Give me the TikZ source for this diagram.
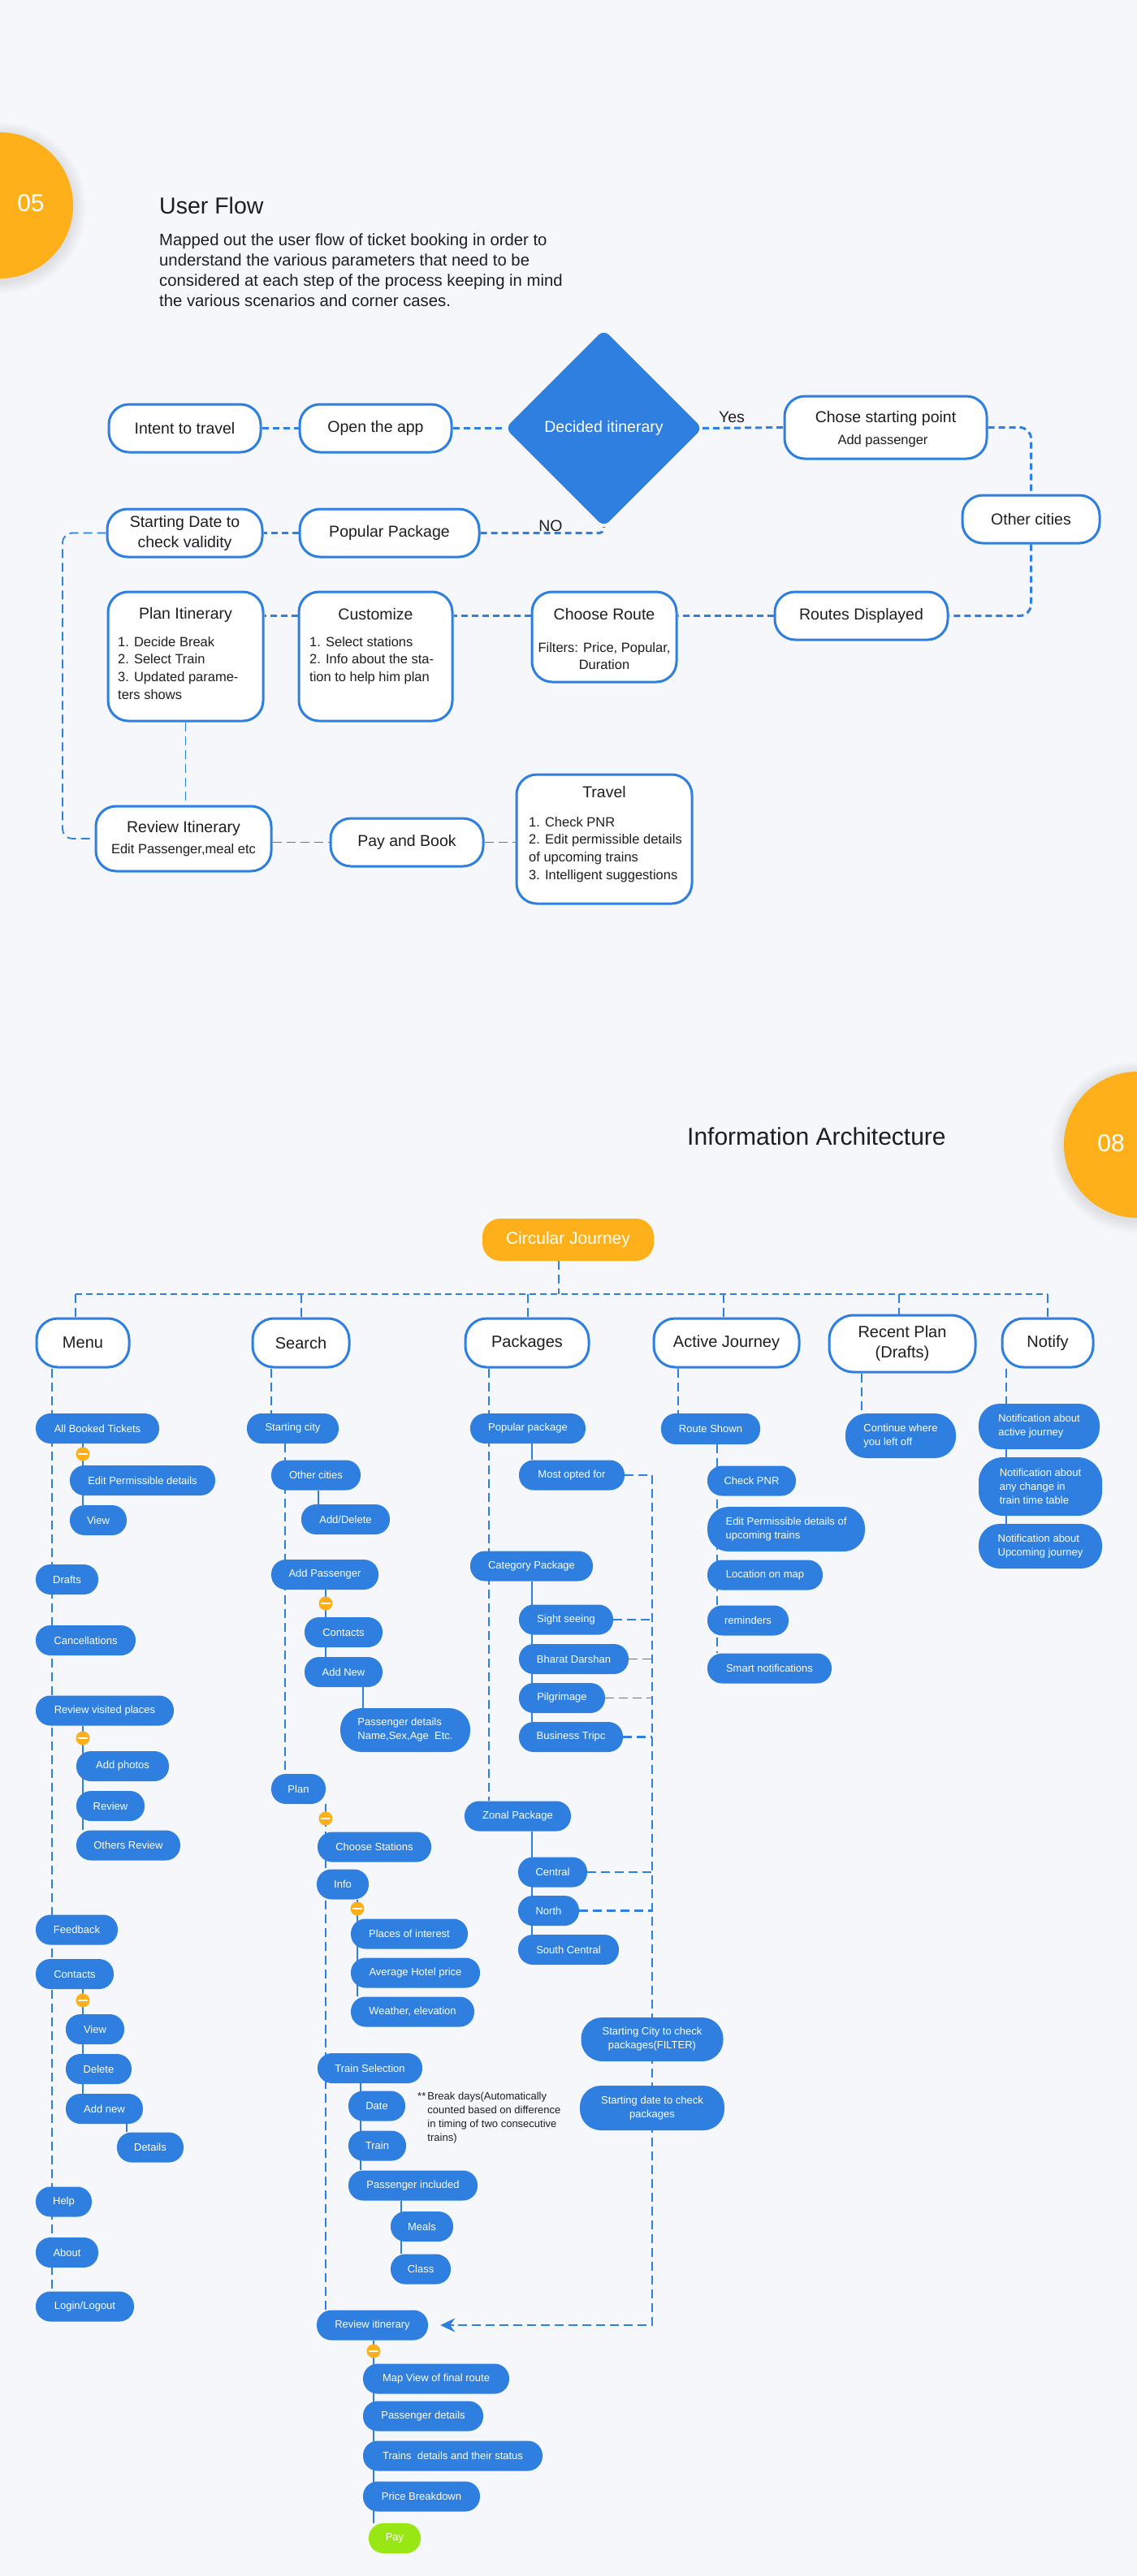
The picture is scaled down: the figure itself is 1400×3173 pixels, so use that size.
\documentclass[tikz,border=0pt]{standalone}
\usepackage{fontspec}
\setmainfont{Liberation Sans}
\usetikzlibrary{shapes.geometric,arrows.meta}
\definecolor{bgc}{RGB}{245,247,251}
\definecolor{bl}{RGB}{46,127,224}
\definecolor{org}{RGB}{253,176,25}
\definecolor{grn}{RGB}{152,230,20}
\definecolor{ink}{RGB}{30,30,34}
\pgfdeclarelayer{back}
\pgfdeclarelayer{wires}
\pgfsetlayers{back,wires,main}
\newcommand\fsTitle{\fontsize{28.5}{34}\selectfont}
\newcommand\fsTitleB{\fontsize{30}{36}\selectfont}
\newcommand\fsPara{\fontsize{20.3}{25}\selectfont}
\newcommand\fsBox{\fontsize{19.5}{25}\selectfont}
\newcommand\fsSub{\fontsize{16.5}{21.7}\selectfont}
\newcommand\fsHead{\fontsize{20}{25}\selectfont}
\newcommand\fsPill{\fontsize{13}{17}\selectfont}
\newcommand\fsNote{\fontsize{13}{16.7}\selectfont}
\newcommand\fsNum{\fontsize{30}{36}\selectfont}
\tikzset{
  flowbox/.style={draw=bl, line width=3pt, fill=white, rounded corners=25pt, inner sep=0pt, font=\fsBox, text=ink, align=center},
  flowtxt/.style={inner sep=0pt, font=\fsBox, text=ink, align=center},
  subtxt/.style={inner sep=0pt, font=\fsSub, text=ink, align=left},
  headbox/.style={draw=bl, line width=3pt, fill=white, rounded corners=26pt, inner sep=0pt, font=\fsHead, text=ink, align=center, minimum height=60pt},
  pl/.style={fill=bl, rounded corners=18pt, inner sep=0pt, font=\fsPill, text=white, minimum height=37pt, align=left},
  pl2/.style={pl, rounded corners=26pt, minimum height=55pt},
  collapse/.style={circle, fill=org, minimum size=17pt, inner sep=0pt, path picture={\draw[white, line width=2.2pt, line cap=round] ([xshift=-5pt]path picture bounding box.center) -- ([xshift=5pt]path picture bounding box.center);}},
  fdash/.style={draw=bl, line width=3pt, dash pattern=on 8pt off 5pt},
  fthin/.style={draw=bl, line width=1.8pt, dash pattern=on 11pt off 6pt},
  bar/.style={draw=bl, line width=2.6pt, dash pattern=on 8pt off 5pt},
  drop/.style={draw=bl, line width=1.6pt, dash pattern=on 11pt off 6pt},
  spine/.style={draw=bl, line width=2.6pt, dash pattern=on 11pt off 6pt},
  twig/.style={draw=bl, line width=2.4pt},
}
\begin{document}
\begin{tikzpicture}[x=1pt,y=-1pt]
\useasboundingbox (0,0) rectangle (1400,3173);
\begin{pgfonlayer}{back}
\fill[bgc] (0,0) rectangle (1400,3173);
\begin{scope}
\clip (0,0) rectangle (1400,3173);
\foreach \rr in {92,94,...,106} {\fill[black,opacity=0.012] (0,256) circle (\rr pt); \fill[black,opacity=0.012] (1400,1413) circle (\rr pt);}
\fill[org] (0,253) circle (90pt);
\fill[org] (1400,1410) circle (90pt);
\end{scope}
\end{pgfonlayer}

% ---------------- USER FLOW ----------------
\node[text=white, font=\fsNum, inner sep=0pt] (n05) at (38,250) {05};
\node[anchor=west, inner sep=0pt, font=\fsTitle, text=ink] (uftitle) at (196,253) {User Flow};
\node[anchor=north west, inner sep=0pt, font=\fsPara, text=ink, align=left] (ufpara) at (196,288) {Mapped out the user flow of ticket booking in order to\\understand the various parameters that need to be\\considered at each step of the process keeping in mind\\the various scenarios and corner cases.};

\node[flowbox, minimum width=187, minimum height=59] (intent) at (227.5,527.5) {Intent to travel};
\node[flowbox, minimum width=187, minimum height=59] (open) at (462.5,527.5) {Open the app};
\node[diamond, aspect=1, fill=bl, minimum width=243, minimum height=243, inner sep=0pt, rounded corners=9pt, text=white, font=\fsBox] (dec) at (743.5,527.5) {Decided itinerary};
\node[flowbox, minimum width=249, minimum height=77] (chose) at (1090.5,526.5) {};
\node[flowtxt] (chose-t) at (1090.5,515) {Chose starting point};
\node[subtxt] (chose-s) at (1087,543) {Add passenger};
\node[flowbox, minimum width=169, minimum height=59] (other) at (1269.5,639.5) {Other cities};
\node[flowbox, minimum width=191, minimum height=59] (start) at (227.5,656.5) {Starting Date to\\check validity};
\node[flowbox, minimum width=221, minimum height=59] (pop) at (479.5,656.5) {Popular Package};
\node[flowtxt] (yes) at (901,514) {Yes};
\node[flowtxt] (no) at (678,648) {NO};

\node[flowbox, minimum width=191, minimum height=159] (plan) at (228.5,808.5) {};
\node[flowtxt] (plan-t) at (228.5,757) {Plan Itinerary};
\node[subtxt, anchor=north west] (plan-l) at (145,784) {1. Decide Break\\2. Select Train\\3. Updated parame-\\ters shows};
\node[flowbox, minimum width=189, minimum height=159] (cust) at (462.5,808.5) {};
\node[flowtxt] (cust-t) at (462.5,757) {Customize};
\node[subtxt, anchor=north west] (cust-l) at (381,784) {1. Select stations\\2. Info about the sta-\\tion to help him plan};
\node[flowbox, minimum width=178, minimum height=111] (choose) at (744,784.5) {};
\node[flowtxt] (choose-t) at (744,757) {Choose Route};
\node[subtxt, align=center] (choose-l) at (744,808) {Filters: Price, Popular,\\Duration};
\node[flowbox, minimum width=213, minimum height=59] (routes) at (1060.5,758.5) {Routes Displayed};

\node[flowbox, minimum width=216, minimum height=80] (review) at (226,1033) {};
\node[flowtxt] (review-t) at (226,1020) {Review Itinerary};
\node[subtxt] (review-s) at (226,1047) {Edit Passenger,meal etc};
\node[flowbox, minimum width=188, minimum height=59] (pay) at (501,1037.5) {Pay and Book};
\node[flowbox, minimum width=216, minimum height=159] (travel) at (744,1033.5) {};
\node[flowtxt] (travel-t) at (744,976) {Travel};
\node[subtxt, anchor=north west] (travel-l) at (651,1006) {1. Check PNR\\2. Edit permissible details\\of upcoming trains\\3. Intelligent suggestions};

\coordinate (lft) at (77,0);
\begin{pgfonlayer}{wires}
\draw[fdash] (intent.east) -- (open.west);
\draw[fdash] (open.east) -- (dec.west);
\draw[fdash] (dec.east) -- (chose.west);
\draw[fdash, rounded corners=14pt] (chose.east) -| (other.north);
\draw[fdash, rounded corners=14pt] (other.south) |- (routes.east);
\draw[fdash] (routes.west) -- (routes.west -| choose.east);
\draw[fdash] (routes.west -| choose.west) -- (routes.west -| cust.east);
\draw[fdash] (routes.west -| cust.west) -- (routes.west -| plan.east);
\draw[fdash, rounded corners=6pt] (pop.east) -| (dec.south);
\draw[fdash] (pop.west) -- (start.east);
\draw[fthin, rounded corners=12pt] (start.west) -- (start.west -| lft) -- (lft |- review.west) -- (review.west);
\draw[fthin] (plan.south) -- (plan.south |- review.north);
\draw[fthin] (pay.west -| review.east) -- (pay.west);
\draw[fthin] (pay.east) -- (pay.east -| travel.west);
\end{pgfonlayer}

% ---------------- INFORMATION ARCHITECTURE ----------------
\node[anchor=west, inner sep=0pt, font=\fsTitleB, text=ink] (iatitle) at (846,1400) {Information Architecture};
\node[text=white, font=\fsNum, inner sep=0pt] (n08) at (1368,1408) {08};
\node[fill=org, rounded corners=22pt, minimum width=211, minimum height=52, text=white, font=\fontsize{21}{25}\selectfont, inner sep=0pt] (cj) at (699.5,1527) {Circular Journey};

\node[headbox, minimum width=114] (menu) at (102,1654) {Menu};
\node[headbox, minimum width=119] (search) at (370.5,1654) {Search};
\node[headbox, minimum width=152] (packages) at (649,1654) {Packages};
\node[headbox, minimum width=179] (active) at (894.5,1654) {Active Journey};
\node[headbox, minimum width=180, minimum height=70, rounded corners=30pt] (recent) at (1111,1655) {Recent Plan\\(Drafts)};
\node[headbox, minimum width=112] (notify) at (1290,1654) {Notify};

% Menu column
\node[pl, minimum width=152] (abt) at (120,1759.5) {All Booked Tickets};
\node[pl, minimum width=179] (epd) at (175.5,1823.5) {Edit Permissible details};
\node[pl, minimum width=70] (mview) at (121,1872.5) {View};
\node[pl, minimum width=77] (drafts) at (82.5,1945.5) {Drafts};
\node[pl, minimum width=123] (canc) at (105.5,2020.5) {Cancellations};
\node[pl, minimum width=170] (rvp) at (129,2107) {Review visited places};
\node[pl, minimum width=114] (addph) at (151,2175.5) {Add photos};
\node[pl, minimum width=84] (mreview) at (136,2224.5) {Review};
\node[pl, minimum width=128] (othrev) at (158,2273) {Others Review};
\node[pl, minimum width=101] (feedback) at (94.5,2377) {Feedback};
\node[pl, minimum width=96] (mcontacts) at (92,2431.5) {Contacts};
\node[pl, minimum width=72] (cview) at (117,2499.5) {View};
\node[pl, minimum width=81] (cdelete) at (121.5,2548.5) {Delete};
\node[pl, minimum width=95] (caddnew) at (128.5,2597.5) {Add new};
\node[pl, minimum width=82] (cdetails) at (185,2645) {Details};
\node[pl, minimum width=69] (help) at (78.5,2712) {Help};
\node[pl, minimum width=77] (about) at (82.5,2774.5) {About};
\node[pl, minimum width=121] (login) at (104.5,2841) {Login/Logout};

% Search column
\node[pl, minimum width=113] (scity) at (360.5,1759.5) {Starting city};
\node[pl, minimum width=110] (ocity) at (389,1817) {Other cities};
\node[pl, minimum width=109] (adddel) at (425.5,1871.5) {Add/Delete};
\node[pl, minimum width=132] (addpass) at (400,1939.5) {Add Passenger};
\node[pl, minimum width=96] (scontacts) at (423,2010.5) {Contacts};
\node[pl, minimum width=96] (saddnew) at (423,2059.5) {Add New};
\node[pl2, minimum width=160, minimum height=54] (passdet) at (499,2131) {Passenger details\\Name,Sex,Age\ \ Etc.};
\node[pl, minimum width=67] (splan) at (367.5,2203.5) {Plan};
\node[pl, minimum width=140] (chst) at (461,2275) {Choose Stations};
\node[pl, minimum width=64] (info) at (422,2321) {Info};
\node[pl, minimum width=144] (poi) at (504,2382) {Places of interest};
\node[pl, minimum width=159] (ahp) at (511.5,2430) {Average Hotel price};
\node[pl, minimum width=152] (weather) at (508,2478) {Weather, elevation};
\node[pl, minimum width=129] (trainsel) at (455.5,2547.5) {Train Selection};
\node[pl, minimum width=70] (date) at (464,2594) {Date};
\node[pl, minimum width=71] (train) at (464.5,2643) {Train};
\node[pl, minimum width=159] (passinc) at (508.5,2692) {Passenger included};
\node[pl, minimum width=77] (meals) at (519.5,2742.5) {Meals};
\node[pl, minimum width=74] (class) at (518,2795) {Class};
\node[anchor=north west, inner sep=0pt, font=\fsNote, text=ink] (note) at (514,2575) {\begin{tabular}{@{}l@{\,}l@{}}**&Break days(Automatically\\&counted based on difference\\&in timing of two consecutive\\&trains)\end{tabular}};
\node[pl, minimum width=137] (revit) at (458.5,2864) {Review itinerary};
\node[pl, minimum width=180] (mapv) at (537,2930) {Map View of final route};
\node[pl, minimum width=148] (pdet) at (521,2976) {Passenger details};
\node[pl, minimum width=221] (trains) at (557.5,3025) {Trains\ \ details and their status};
\node[pl, minimum width=144] (price) at (519,3075) {Price Breakdown};
\node[pl, fill=grn, minimum width=64] (paynode) at (486,3126.5) {Pay};

% Packages column
\node[pl, minimum width=142] (popular) at (650,1759.5) {Popular package};
\node[pl, minimum width=130] (most) at (704,1817) {Most opted for};
\node[pl, minimum width=151] (category) at (654.5,1929) {Category Package};
\node[pl, minimum width=116] (sight) at (697,1995) {Sight seeing};
\node[pl, minimum width=135] (bharat) at (706.5,2043.5) {Bharat Darshan};
\node[pl, minimum width=106] (pilg) at (692,2091.5) {Pilgrimage};
\node[pl, minimum width=128] (business) at (703,2139.5) {Business Tripc};
\node[pl, minimum width=131] (zonal) at (637.5,2237) {Zonal Package};
\node[pl, minimum width=85] (central) at (680.5,2306) {Central};
\node[pl, minimum width=75] (north) at (675.5,2353.5) {North};
\node[pl, minimum width=124] (southc) at (700,2401.5) {South Central};
\node[pl2, minimum width=175, minimum height=54, align=center] (scfilter) at (803,2512) {Starting City to check\\packages(FILTER)};
\node[pl2, minimum width=178, minimum height=55, align=center] (sdfilter) at (803,2596.5) {Starting date to check\\packages};

% Active journey column
\node[pl, minimum width=122, minimum height=38] (route) at (875,1760) {Route Shown};
\node[pl, minimum width=109] (chkpnr) at (925.5,1824) {Check PNR};
\node[pl2, minimum width=194] (editp) at (968,1883.5) {Edit Permissible details of\\upcoming trains};
\node[pl, minimum width=142] (loc) at (942,1940) {Location on map};
\node[pl, minimum width=100] (remind) at (921,1996) {reminders};
\node[pl, minimum width=153] (smart) at (947.5,2055) {Smart notifications};

% Recent plan / Notify
\node[pl2, minimum width=136] (cont) at (1109,1768.5) {Continue where\\you left off};
\node[pl2, minimum width=149, minimum height=56] (nt1) at (1279.5,1757) {Notification about\\active journey};
\node[pl2, minimum width=152, minimum height=72, rounded corners=30pt] (nt2) at (1281,1831) {Notification about\\any change in\\train time table};
\node[pl2, minimum width=152] (nt3) at (1281,1904.5) {Notification about\\Upcoming journey};

% collapse markers
\node[collapse] (c1) at (102,1791) {};
\node[collapse] (c2) at (102,2141) {};
\node[collapse] (c3) at (102,2464) {};
\node[collapse] (c4) at (401,1975) {};
\node[collapse] (c5) at (401,2240) {};
\node[collapse] (c6) at (440,2351) {};
\node[collapse] (c7) at (460,2896) {};

% coordinates
\coordinate (b1) at (93,1594);
\coordinate (b2) at (371,1594);
\coordinate (b3) at (650,1594);
\coordinate (b4) at (891,1594);
\coordinate (b5) at (1107,1594);
\coordinate (b6) at (1290,1594);
\coordinate (cjx) at (688,1594);
\coordinate (xm) at (64,0);
\coordinate (xm2) at (102,0);
\coordinate (xm3) at (156,0);
\coordinate (xs) at (334,0);
\coordinate (xs2) at (351,0);
\coordinate (xs3) at (392,0);
\coordinate (xs4) at (401,0);
\coordinate (xs5) at (447,0);
\coordinate (xs6) at (440,0);
\coordinate (xs7) at (444,0);
\coordinate (xs8) at (494,0);
\coordinate (xs9) at (460,0);
\coordinate (xp) at (602,0);
\coordinate (xp2) at (655,0);
\coordinate (xr2) at (803,0);
\coordinate (xa) at (835,0);
\coordinate (xa2) at (883,0);
\coordinate (xr) at (1061,0);
\coordinate (xn) at (1239,0);

\begin{pgfonlayer}{wires}
\draw[drop] (cjx |- cj.south) -- (cjx);
\draw[bar] (b1) -- (b6);
\foreach \bb/\hh in {b1/menu, b2/search, b3/packages, b4/active, b5/recent, b6/notify} {\draw[drop] (\bb) -- (\bb |- \hh.north);}
% menu
\draw[drop] (xm |- menu.south) -- (xm |- login.north);
\draw[twig] (xm2 |- abt.south) -- (xm2 |- mview.north);
\draw[twig] (xm2 |- rvp.south) -- (xm2 |- othrev.north);
\draw[twig] (xm2 |- mcontacts.south) -- (xm2 |- caddnew.north);
\draw[twig] (xm3 |- caddnew.south) -- (xm3 |- cdetails.north);
% search
\draw[drop] (xs |- search.south) -- (xs |- scity.north);
\draw[spine] (xs2 |- scity.south) -- (xs2 |- splan.north);
\draw[twig] (xs3 |- ocity.south) -- (xs3 |- adddel.north);
\draw[twig] (xs4 |- addpass.south) -- (xs4 |- saddnew.north);
\draw[twig] (xs5 |- saddnew.south) -- (xs5 |- passdet.north);
\draw[spine] (xs4 |- splan.south) -- (xs4 |- revit.north);
\draw[twig] (xs6 |- info.south) -- (xs6 |- weather.north);
\draw[twig] (xs7 |- trainsel.south) -- (xs7 |- passinc.north);
\draw[twig] (xs8 |- passinc.south) -- (xs8 |- class.north);
\draw[twig] (xs9 |- revit.south) -- (xs9 |- paynode.north);
% packages
\draw[drop] (xp |- packages.south) -- (xp |- zonal.north);
\draw[twig] (xp2 |- popular.south) -- (xp2 |- most.north);
\draw[twig] (xp2 |- category.south) -- (xp2 |- business.north);
\draw[twig] (xp2 |- zonal.south) -- (xp2 |- southc.north);
\draw[spine] (most.east) -| (xr2 |- revit.east) -- ([xshift=30pt]revit.east);
\draw[bl, line width=2.6pt, -{Stealth[length=18pt, width=17pt, inset=6pt]}] ([xshift=32pt]revit.east) -- ([xshift=15pt]revit.east);
\draw[spine] (sight.east) -- (sight.east -| xr2);
\draw[drop] (bharat.east) -- (bharat.east -| xr2);
\draw[drop] (pilg.east) -- (pilg.east -| xr2);
\draw[spine] (business.east) -- (business.east -| xr2);
\draw[spine] (central.east) -- (central.east -| xr2);
\draw[spine] (north.east) -- (north.east -| xr2);
% active journey
\draw[drop] (xa |- active.south) -- (xa |- route.north);
\draw[spine] (xa2 |- route.south) -- (xa2 |- smart.north);
% recent / notify
\draw[spine] (xr |- recent.south) -- (xr |- cont.north);
\draw[spine] (xn |- notify.south) -- (xn |- nt1.north);
\draw[twig] (xn |- nt1.south) -- (xn |- nt3.north);
\end{pgfonlayer}
\end{tikzpicture}
\end{document}
